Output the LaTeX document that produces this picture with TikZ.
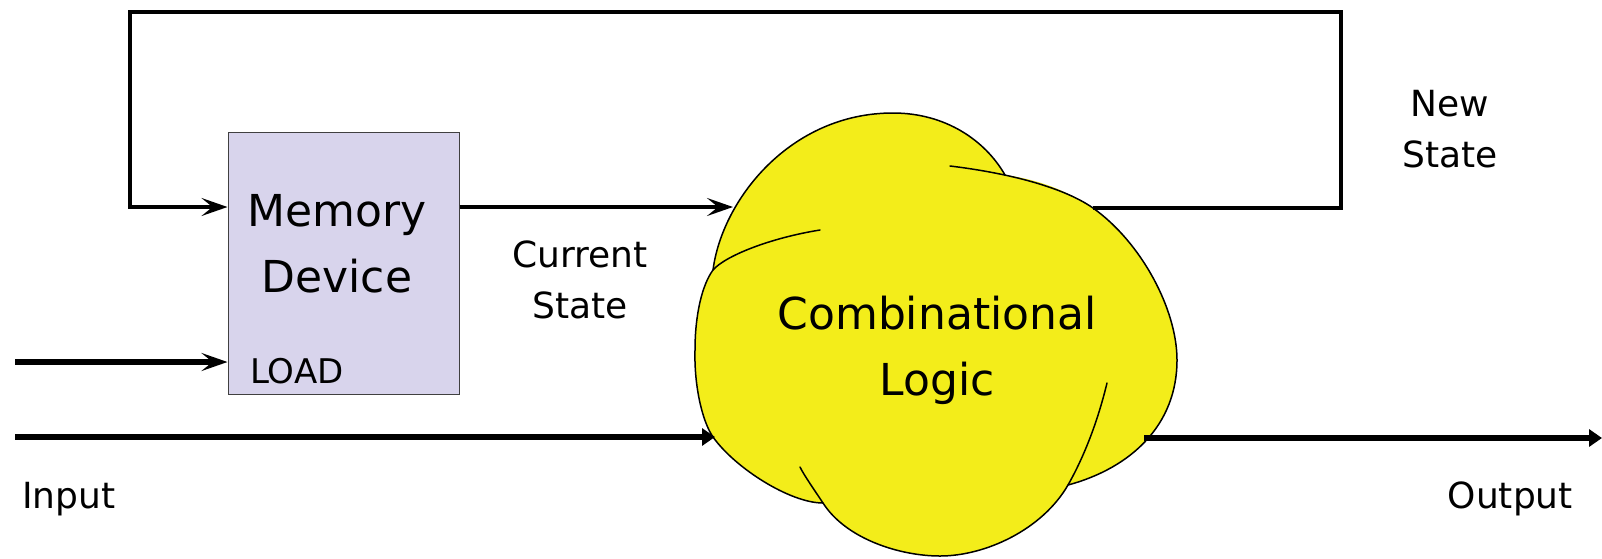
\documentclass[tikz,border=0pt]{standalone}
\usepackage{fontspec}
\setmainfont{DejaVu Sans}
\usetikzlibrary{arrows.meta}
\definecolor{memfill}{RGB}{216,212,236}
\definecolor{blobyellow}{RGB}{243,237,26}
\begin{document}
\begin{tikzpicture}[x=1pt,y=-1pt,
  thinwire/.style={line width=3.2pt,line join=miter},
  thickwire/.style={line width=5.5pt},
  chev/.style={-{Stealth[length=26pt,width=18pt,inset=11pt]}},
  tri/.style={-{Triangle[length=13pt,width=17pt]}},
  bigtext/.style={font=\fontsize{44}{66}\selectfont,align=center,inner sep=0pt},
  labeltext/.style={font=\fontsize{36}{51}\selectfont,align=center,inner sep=0pt},
  blobline/.style={line width=1.5pt,line cap=round,line join=round}]
\useasboundingbox (0,0) rectangle (1602,558);

% memory device box
\node[draw=black!75,line width=1pt,fill=memfill,minimum width=231pt,minimum height=262pt,inner sep=0pt] (mem) at (343.5,263) {};
\node[bigtext] (memtxt) at (337,244) {Memory\\Device};
\node[font=\fontsize{34}{40}\selectfont,inner sep=0pt,anchor=base west] (load) at (250,383) {LOAD};

% combinational logic blob (fill)
\fill[blobyellow]
  (713,270) .. controls (722,200) and (790,113) .. (893,113)
  .. controls (945,113) and (985,140) .. (1005,175)
  .. controls (1040,180) and (1065,190) .. (1093,208)
  .. controls (1142,243) and (1177,310) .. (1177,360)
  .. controls (1177,425) and (1131,468) .. (1068,485)
  .. controls (1042,530) and (985,556) .. (940,556)
  .. controls (900,556) and (846,539) .. (823,503)
  .. controls (790,503) and (735,468) .. (713,437)
  .. controls (702,421) and (694,385) .. (695,350)
  .. controls (695,315) and (702,285) .. (713,270) -- cycle;
% lobe outlines
\draw[blobline] (713,270) .. controls (722,200) and (790,113) .. (893,113)
  .. controls (945,113) and (985,140) .. (1005,175);
\draw[blobline] (950,166) .. controls (1000,172) and (1060,185) .. (1093,208)
  .. controls (1142,243) and (1177,310) .. (1177,360)
  .. controls (1177,425) and (1131,468) .. (1068,485);
\draw[blobline] (1107,383) .. controls (1098,420) and (1085,455) .. (1068,485)
  .. controls (1042,530) and (985,556) .. (940,556)
  .. controls (900,556) and (846,539) .. (823,503)
  .. controls (811,485) and (804,475) .. (800,467);
\draw[blobline] (823,503) .. controls (790,503) and (735,468) .. (713,437)
  .. controls (702,421) and (694,385) .. (695,350)
  .. controls (695,315) and (702,285) .. (713,270)
  .. controls (725,256) and (770,238) .. (820,230);
\node[bigtext] (cl) at (937,350) {Combinational\\Logic};

% connection points
\coordinate (cs) at (733,207);
\coordinate (ns) at (1093,208);
\coordinate (inp) at (715,437);
\coordinate (outp) at (1144,438);
\coordinate (outend) at (1602,438);
\coordinate (inpstart) at (15,437);
\coordinate (loadstart) at (15,362);
\coordinate (tr) at (1341,12);
\coordinate (fbin) at (130,207);

% connectors
\draw[thinwire,chev] (ns) -| (tr) -| (fbin) -- (fbin -| mem.west);
\draw[thinwire,chev] (mem.east |- cs) -- (cs);
\draw[thickwire,chev] (loadstart) -- (loadstart -| mem.west);
\draw[thickwire,tri] (inpstart) -- (inp);
\draw[thickwire,tri] (outp) -- (outend);

% labels
\node[labeltext] (cstxt) at (580,280) {Current\\State};
\node[labeltext] (nstxt) at (1450,129) {New\\State};
\node[labeltext,anchor=base west] (intxt) at (22,508) {Input};
\node[labeltext,anchor=base east] (outtxt) at (1573,508) {Output};
\end{tikzpicture}
\end{document}
